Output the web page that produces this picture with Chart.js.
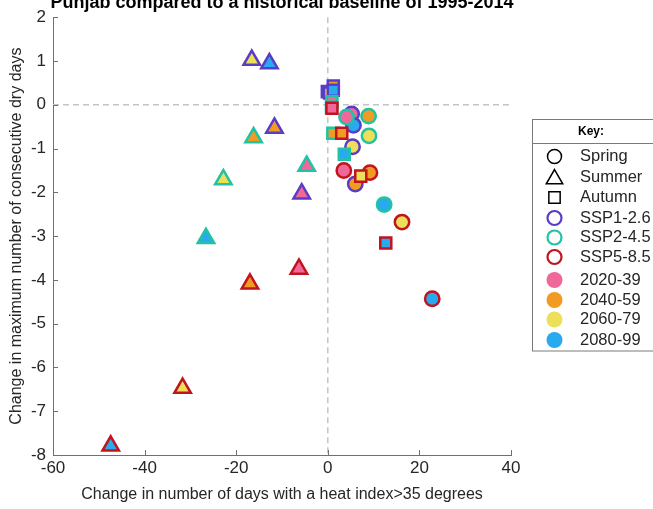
<!DOCTYPE html>
<html><head><meta charset="utf-8">
<script src="https://cdn.jsdelivr.net/npm/chart.js@4/dist/chart.umd.min.js"></script>
<style>html,body{margin:0;padding:0;background:#fff;}canvas{display:block;}</style>
</head><body>
<canvas id="c" width="653" height="509"></canvas>
<script>
// ---- categories ----
const titleText = 'Punjab compared to a historical baseline of 1995-2014';
const xLabel = 'Change in number of days with a heat index>35 degrees';
const yLabel = 'Change in maximum number of consecutive dry days';
const periods = ['2020-39', '2040-59', '2060-79', '2080-99'];
const periodColors = ['#F0679A', '#F29B22', '#EEDF58', '#2AAAEE'];
const scenarios = ['SSP1-2.6', 'SSP2-4.5', 'SSP5-8.5'];
const scenarioColors = ['#5B3CC6', '#20C3A2', '#C1141F'];
const seasons = ['Spring', 'Summer', 'Autumn'];
const seasonStyles = ['circle', 'triangle', 'rect'];
const xTicks = [-60, -40, -20, 0, 20, 40];
const yTicks = [-8, -7, -6, -5, -4, -3, -2, -1, 0, 1, 2];

// ---- values (one entry per period: 2020-39, 2040-59, 2060-79, 2080-99) ----
// Summer
const summerSSP126X = [-5.7, -11.65, -16.6, -12.75];
const summerSSP126Y = [-2.03, -0.53, 1.02, 0.94];
const summerSSP245X = [-4.6, -16.2, -22.8, -26.6];
const summerSSP245Y = [-1.40, -0.75, -1.71, -3.05];
const summerSSP585X = [-6.3, -17.0, -31.7, -47.4];
const summerSSP585Y = [-3.75, -4.09, -6.47, -7.79];
// Spring
const springSSP126X = [5.2, 6.0, 5.4, 5.6];
const springSSP126Y = [-0.21, -1.81, -0.96, -0.47];
const springSSP245X = [4.1, 8.9, 9.0, 12.3];
const springSSP245Y = [-0.28, -0.26, -0.71, -2.28];
const springSSP585X = [3.5, 9.2, 16.2, 22.8];
const springSSP585Y = [-1.50, -1.55, -2.68, -4.43];
// Autumn
const autumnSSP126X = [-0.1, 1.2, 0.4, 1.2];
const autumnSSP126Y = [0.30, 0.43, 0.27, 0.33];
const autumnSSP245X = [0.9, 1.1, 0.8, 3.6];
const autumnSSP245Y = [0.07, -0.65, -0.05, -1.13];
const autumnSSP585X = [0.9, 3.05, 7.2, 12.66];
const autumnSSP585Y = [-0.08, -0.65, -1.63, -3.16];

const seriesX = {
  Summer: [summerSSP126X, summerSSP245X, summerSSP585X],
  Spring: [springSSP126X, springSSP245X, springSSP585X],
  Autumn: [autumnSSP126X, autumnSSP245X, autumnSSP585X]
};
const seriesY = {
  Summer: [summerSSP126Y, summerSSP245Y, summerSSP585Y],
  Spring: [springSSP126Y, springSSP245Y, springSSP585Y],
  Autumn: [autumnSSP126Y, autumnSSP245Y, autumnSSP585Y]
};

const FONT = '"Liberation Sans", Arial, Helvetica, sans-serif';
Chart.defaults.font.family = FONT;
const TEXT = '#262626';
const AXIS = '#707070';
const styleRadius = {circle: 7.2, triangle: 9.5, rect: 7.8};

// bottom-to-top drawing sequence
const drawSeq = [];
scenarios.forEach((sc, si) => {
  ['Summer', 'Spring', 'Autumn'].forEach(season => {
    const style = seasonStyles[seasons.indexOf(season)];
    drawSeq.push({
      label: season + ' ' + sc,
      data: seriesX[season][si].map((v, i) => ({x: v, y: seriesY[season][si][i]})),
      pointStyle: style,
      pointRadius: styleRadius[style],
      pointHoverRadius: styleRadius[style],
      pointBorderWidth: 2.5,
      pointHoverBorderWidth: 2.5,
      pointBorderColor: scenarioColors[si],
      pointBackgroundColor: periodColors.slice(),
      showLine: false
    });
  });
});
const datasets = drawSeq.map((d, i) => Object.assign(d, {order: drawSeq.length - i}));

const decor = {
  id: 'decor',
  beforeDatasetsDraw(chart) {
    const {ctx, chartArea: a, scales: {x, y}} = chart;
    ctx.save();
    ctx.strokeStyle = '#c4c4c4';
    ctx.lineWidth = 1.5;
    ctx.setLineDash([6, 4]);
    const x0 = x.getPixelForValue(0), y0 = y.getPixelForValue(0);
    ctx.beginPath(); ctx.moveTo(x0, a.top); ctx.lineTo(x0, a.bottom); ctx.stroke();
    ctx.beginPath(); ctx.moveTo(a.left, y0); ctx.lineTo(a.right, y0); ctx.stroke();
    ctx.setLineDash([]);
    // inward tick marks
    ctx.strokeStyle = AXIS; ctx.lineWidth = 1;
    xTicks.forEach(v => {
      const px = Math.round(x.getPixelForValue(v)) + 0.5;
      ctx.beginPath(); ctx.moveTo(px, a.bottom); ctx.lineTo(px, a.bottom - 5); ctx.stroke();
    });
    yTicks.forEach(v => {
      const py = Math.round(y.getPixelForValue(v)) + 0.5;
      ctx.beginPath(); ctx.moveTo(a.left, py); ctx.lineTo(a.left + 5, py); ctx.stroke();
    });
    ctx.restore();
  },
  afterDraw(chart) {
    const {ctx, chartArea: a} = chart;
    ctx.save();
    // title
    ctx.fillStyle = '#000';
    ctx.font = 'bold 18px ' + FONT;
    ctx.textAlign = 'center';
    ctx.textBaseline = 'alphabetic';
    ctx.fillText(titleText, (a.left + a.right) / 2, 8);
    // legend box
    const L = 532.5, T = 119.5, W = 121, H = 231.5;
    ctx.fillStyle = '#fff';
    ctx.fillRect(L, T, W, H);
    ctx.strokeStyle = '#7a7a7a'; ctx.lineWidth = 1;
    ctx.strokeRect(L, T, W, H);
    ctx.beginPath(); ctx.moveTo(L, 143.5); ctx.lineTo(L + W, 143.5); ctx.stroke();
    ctx.fillStyle = '#000';
    ctx.font = 'bold 12px ' + FONT;
    ctx.textAlign = 'center'; ctx.textBaseline = 'middle';
    ctx.fillText('Key:', 591, 132);
    const rows = [156.5, 177, 197.5, 218, 237.5, 257, 280, 300, 319.5, 340];
    const mx = 554.5, tx = 580;
    const items = [];
    seasons.forEach((s, i) => items.push({text: s, style: seasonStyles[i], stroke: '#000', fill: 'rgba(0,0,0,0)', bw: 1.5,
      r: seasonStyles[i] === 'circle' ? 7 : (seasonStyles[i] === 'triangle' ? 9.5 : 8)}));
    scenarios.forEach((s, i) => items.push({text: s, style: 'circle', stroke: scenarioColors[i], fill: 'rgba(0,0,0,0)', bw: 2.2, r: 7}));
    periods.forEach((p, i) => items.push({text: p, style: 'circle', stroke: periodColors[i], fill: periodColors[i], bw: 0, r: 8}));
    items.forEach((it, i) => {
      const cy = rows[i] + (it.style === 'triangle' ? 2 : 0);
      ctx.strokeStyle = it.stroke; ctx.fillStyle = it.fill; ctx.lineWidth = it.bw;
      Chart.helpers.drawPoint(ctx, {pointStyle: it.style, radius: it.r, borderWidth: it.bw, rotation: 0}, mx, cy);
      ctx.fillStyle = TEXT;
      ctx.font = '16.5px ' + FONT;
      ctx.textAlign = 'left'; ctx.textBaseline = 'middle';
      ctx.fillText(it.text, tx, rows[i]);
    });
    ctx.restore();
  }
};

new Chart(document.getElementById('c'), {
  type: 'scatter',
  data: {datasets: datasets},
  plugins: [decor],
  options: {
    responsive: false,
    animation: false,
    events: [],
    layout: {padding: {left: 0, right: 142, top: 12, bottom: 0}},
    plugins: {legend: {display: false}, tooltip: {enabled: false}, title: {display: false}},
    scales: {
      x: {
        type: 'linear', min: -60, max: 40,
        afterBuildTicks: s => { s.ticks = xTicks.map(v => ({value: v})); },
        afterFit: s => { s.height = 54; },
        grid: {display: false, drawTicks: false},
        border: {display: true, color: AXIS, width: 1},
        ticks: {font: {size: 17}, color: TEXT, padding: 3, maxRotation: 0, autoSkip: false},
        title: {display: true, text: xLabel, color: TEXT, font: {size: 16}, padding: {top: 0, bottom: 5}}
      },
      y: {
        type: 'linear', min: -8, max: 2,
        afterBuildTicks: s => { s.ticks = yTicks.map(v => ({value: v})); },
        afterFit: s => { s.width = 53; },
        grid: {display: false, drawTicks: false},
        border: {display: true, color: AXIS, width: 1},
        ticks: {font: {size: 17}, color: TEXT, padding: 7, autoSkip: false},
        title: {display: true, text: yLabel, color: TEXT, font: {size: 16}, padding: {top: 7, bottom: 0}}
      }
    }
  }
});
</script>
</body></html>
